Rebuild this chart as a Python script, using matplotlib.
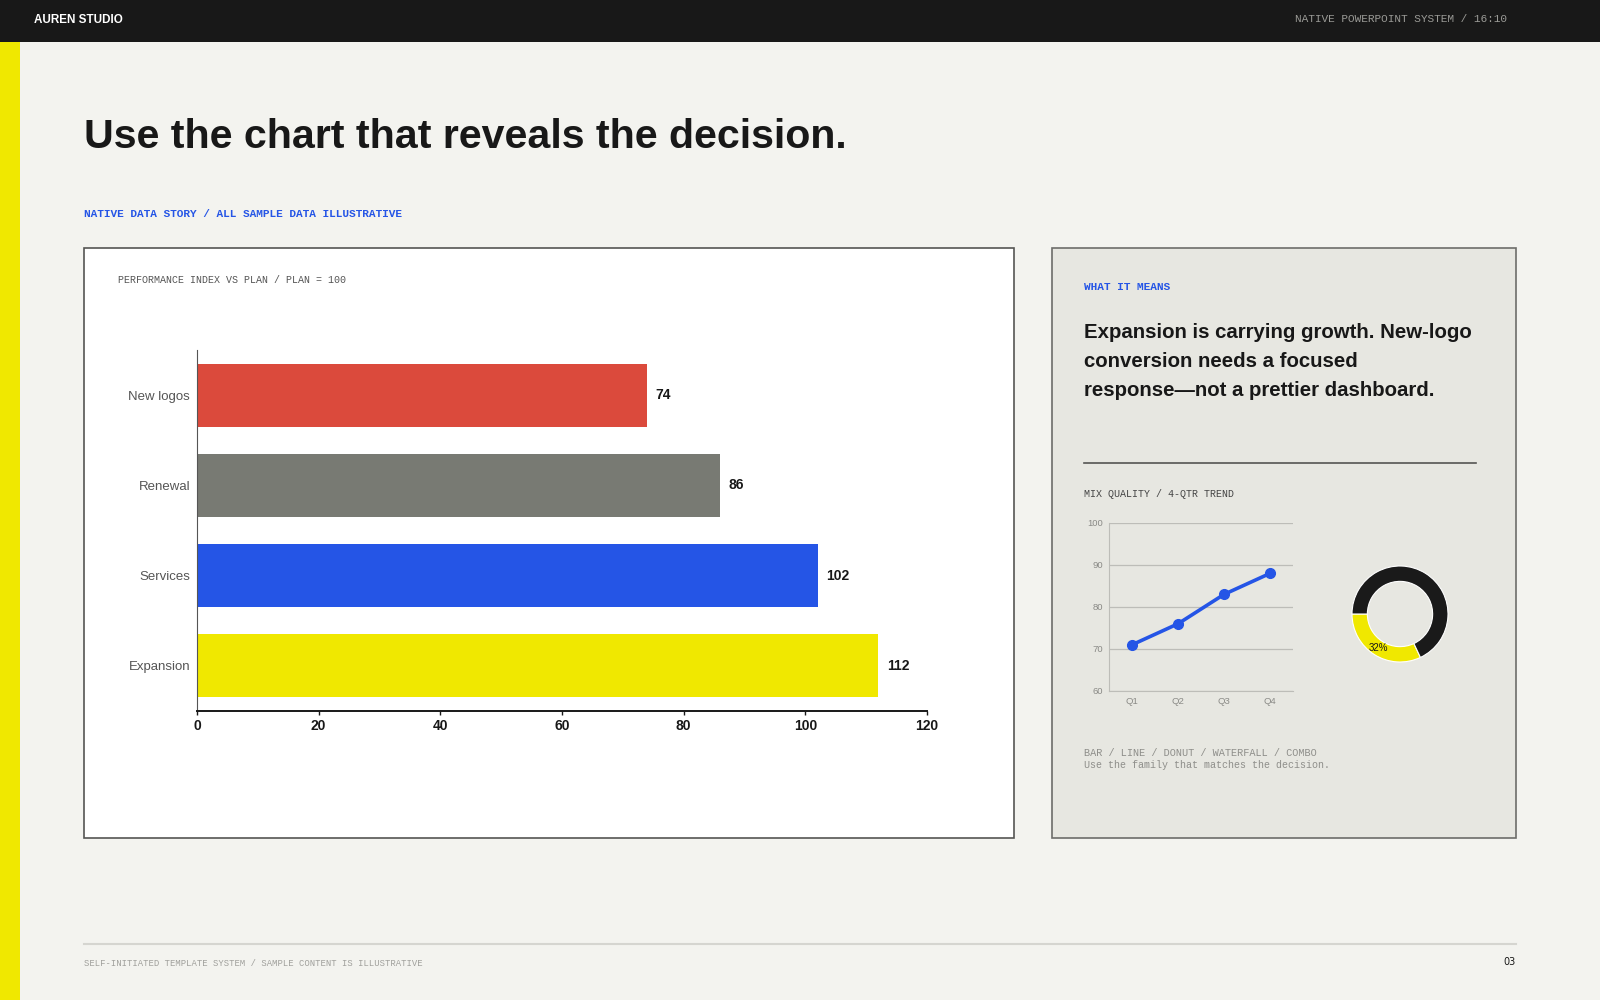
import matplotlib
matplotlib.use("Agg")
import matplotlib.pyplot as plt
from matplotlib.patches import Rectangle

W, H = 1600, 1000

categories = ["New logos", "Renewal", "Services", "Expansion"]
index_vs_plan = [74, 86, 102, 112]
bar_colors = ["#db4a3c", "#787a73", "#2555e6", "#f0e800"]

quarters = ["Q1", "Q2", "Q3", "Q4"]
mix_quality = [71, 76, 83, 88]

donut_share = [32, 68]

BG = "#f3f3ef"
DARK = "#181818"
BLUE = "#2555e6"
NARROW = ["Liberation Sans Narrow", "Liberation Sans", "DejaVu Sans"]
MONO = ["Liberation Mono", "DejaVu Sans Mono"]
SANS = ["Liberation Sans", "DejaVu Sans"]


def fx(x):
    return x / W


def fy(y):
    return 1 - y / H


def rect(fig, x0, y0, x1, y1, **kw):
    fig.add_artist(Rectangle((fx(x0), fy(y1)), (x1 - x0) / W, (y1 - y0) / H,
                             transform=fig.transFigure, zorder=-5, **kw))


def txt(fig, x, y, s, **kw):
    kw.setdefault("va", "center")
    fig.text(fx(x), fy(y), s, **kw)


fig = plt.figure(figsize=(16, 10), dpi=100, facecolor=BG)

# frame: top bar, yellow strip
rect(fig, 0, 0, W, 42, facecolor=DARK, edgecolor="none")
rect(fig, 0, 42, 20, H, facecolor="#f0e800", edgecolor="none")
txt(fig, 34, 20, "AUREN STUDIO", family=NARROW, weight="bold", size=8.4, color="white")
txt(fig, 1507, 19, "NATIVE POWERPOINT SYSTEM / 16:10", family=MONO, size=8,
    color="#9a9a96", ha="right")

txt(fig, 84, 137, "Use the chart that reveals the decision.", family=NARROW,
    weight="bold", size=29.6, color=DARK)
txt(fig, 84, 214, "NATIVE DATA STORY / ALL SAMPLE DATA ILLUSTRATIVE", family=MONO,
    weight="bold", size=8, color=BLUE)

# panels
rect(fig, 84, 248, 1014, 838, facecolor="white", edgecolor="#555553", lw=1.2)
rect(fig, 1052, 248, 1516, 838, facecolor="#e7e7e1", edgecolor="#6d6d6a", lw=1.2)

txt(fig, 118, 280, "PERFORMANCE INDEX VS PLAN / PLAN = 100", family=MONO, size=7.2,
    color="#555555")

# bar chart
ax = fig.add_axes([fx(197), fy(711), (927 - 197) / W, (711 - 350) / H])
ax.set_facecolor("white")
ypos = range(len(categories))
ax.barh(ypos, index_vs_plan, height=0.7, color=bar_colors)
for y, v in zip(ypos, index_vs_plan):
    ax.annotate(str(v), (v, y), xytext=(6, 0), textcoords="offset points",
                va="center", ha="left", family=SANS, weight="bold", size=10, color=DARK)
ax.set_ylim(3.5, -0.5)
ax.set_xlim(0, 120)
ax.set_yticks(list(ypos))
ax.set_yticklabels(categories, family=SANS, size=9.5, color="#555555")
ax.set_xticks(range(0, 121, 20))
ax.set_xticklabels([str(t) for t in range(0, 121, 20)], family=SANS, weight="bold",
                   size=10, color=DARK)
ax.tick_params(axis="y", length=0, pad=5)
ax.tick_params(axis="x", length=3, width=1, color=DARK, pad=3)
for s in ("top", "right"):
    ax.spines[s].set_visible(False)
ax.spines["left"].set_color("#555555")
ax.spines["bottom"].set_color(DARK)
ax.spines["bottom"].set_linewidth(1.4)

# right panel text
txt(fig, 1084, 287, "WHAT IT MEANS", family=MONO, weight="bold", size=8, color=BLUE)
headline = ["Expansion is carrying growth. New-logo",
            "conversion needs a focused",
            "response\u2014not a prettier dashboard."]
for i, line in enumerate(headline):
    txt(fig, 1084, 332 + i * 29.5, line, family=NARROW, weight="bold", size=14.7,
        color=DARK)
fig.add_artist(plt.Line2D([fx(1084), fx(1476)], [fy(463), fy(463)],
                          transform=fig.transFigure, color="#555553", lw=1.2))
txt(fig, 1084, 494, "MIX QUALITY / 4-QTR TREND", family=MONO, size=7.2, color="#444444")

# line chart
lx = fig.add_axes([fx(1109), fy(691), (1293 - 1109) / W, (691 - 523) / H])
lx.set_facecolor("none")
xq = range(len(quarters))
lx.plot(xq, mix_quality, color=BLUE, lw=2.6, marker="o", ms=7, zorder=3)
lx.set_xlim(-0.5, 3.5)
lx.set_ylim(60, 100)
lx.set_yticks([60, 70, 80, 90, 100])
lx.set_xticks(list(xq))
lx.set_xticklabels(quarters)
lx.grid(axis="y", color="#bdbdb8", lw=0.9)
lx.tick_params(length=0, labelsize=6.8, labelcolor="#8a8a86", pad=4)
for lab in lx.get_xticklabels() + lx.get_yticklabels():
    lab.set_family(SANS)
for s in ("top", "right"):
    lx.spines[s].set_visible(False)
lx.spines["left"].set_color("#bdbdb8")
lx.spines["bottom"].set_color("#bdbdb8")

# donut
dx = fig.add_axes([fx(1350), fy(664), 100 / W, 100 / H])
dx.set_facecolor("none")
wedges, _, autot = dx.pie(donut_share, colors=["#f0e800", "#1a1a1a"], startangle=180,
                          counterclock=True, radius=1,
                          wedgeprops=dict(width=0.32, edgecolor="white", lw=0.8),
                          autopct=lambda p: f"{p:.0f}%" if p < 50 else "",
                          pctdistance=0.84)
for t in autot:
    t.set_fontsize(7)
    t.set_family(SANS)
    t.set_color(DARK)
dx.set_xlim(-50 / 48, 50 / 48)
dx.set_ylim(-50 / 48, 50 / 48)
dx.set_aspect("equal")
dx.axis("off")

txt(fig, 1084, 753, "BAR / LINE / DONUT / WATERFALL / COMBO", family=MONO, size=7.4,
    color="#8e8e8a")
txt(fig, 1084, 765, "Use the family that matches the decision.", family=MONO, size=7.2,
    color="#8e8e8a")

# footer
fig.add_artist(plt.Line2D([fx(84), fx(1516)], [fy(944), fy(944)],
                          transform=fig.transFigure, color="#d5d5d0", lw=1.5))
txt(fig, 84, 963, "SELF-INITIATED TEMPLATE SYSTEM / SAMPLE CONTENT IS ILLUSTRATIVE",
    family=MONO, size=6.4, color="#a0a09c")
txt(fig, 1516, 962, "03", family=["DejaVu Sans"], size=7, color=DARK, ha="right")

fig.savefig("out.png", dpi=100, facecolor=BG)
